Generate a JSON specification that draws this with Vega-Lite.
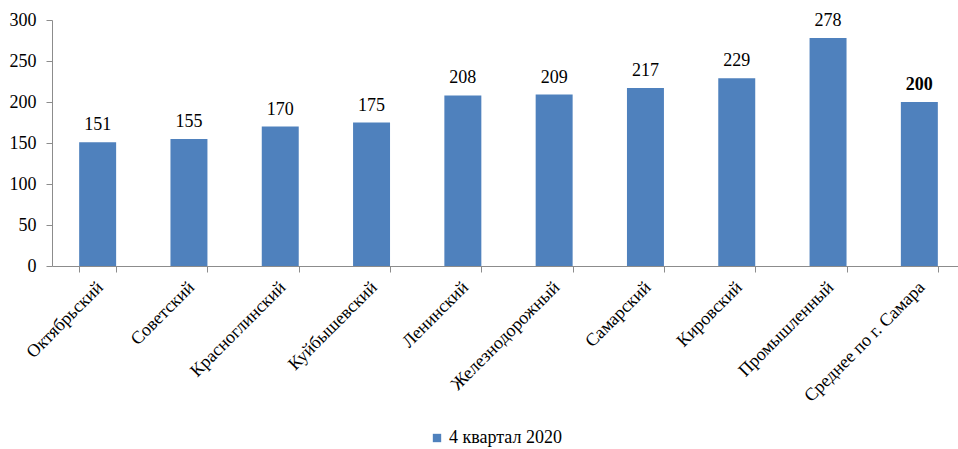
{
  "$schema": "https://vega.github.io/schema/vega-lite/v6.json",
  "width": 906,
  "height": 246,
  "autosize": {"type": "none"},
  "padding": {"left": 52, "top": 20, "right": 0, "bottom": 183},
  "background": "white",
  "config": {
    "view": {"stroke": null},
    "font": "Liberation Serif",
    "axis": {"labelFont": "Liberation Serif", "labelFontSize": 18, "labelColor": "#000000", "domainColor": "#8c8c8c", "tickColor": "#8c8c8c", "grid": false, "title": null},
    "legend": {"labelFont": "Liberation Serif", "labelFontSize": 18, "labelColor": "#000000"}
  },
  "data": {
    "values": [
      {"district": "Октябрьский", "value": 151},
      {"district": "Советский", "value": 155},
      {"district": "Красноглинский", "value": 170},
      {"district": "Куйбышевский", "value": 175},
      {"district": "Ленинский", "value": 208},
      {"district": "Железнодорожный", "value": 209},
      {"district": "Самарский", "value": 217},
      {"district": "Кировский", "value": 229},
      {"district": "Промышленный", "value": 278},
      {"district": "Среднее по г. Самара", "value": 200}
    ]
  },
  "encoding": {
    "x": {
      "field": "district", "type": "nominal", "sort": null,
      "scale": {"range": [0, 913], "paddingInner": 0.595, "paddingOuter": 0.2975},
      "axis": {"labelAngle": -45, "tickBand": "extent", "tickSize": 6, "labelPadding": 6, "labelOffset": -4}
    },
    "y": {
      "field": "value", "type": "quantitative",
      "scale": {"domain": [0, 300], "nice": false},
      "axis": {"values": [0, 50, 100, 150, 200, 250, 300], "tickSize": 6, "labelPadding": 10}
    }
  },
  "layer": [
    {
      "mark": {"type": "bar", "color": "#4F81BD"},
      "encoding": {
        "color": {"datum": "4 квартал 2020", "scale": {"range": ["#4F81BD"]},
          "legend": {"orient": "none", "legendX": 376, "legendY": 409, "title": null, "symbolType": "square", "symbolSize": 70, "labelOffset": 3}}
      }
    },
    {
      "transform": [{"filter": "datum.district !== 'Среднее по г. Самара'"}],
      "mark": {"type": "text", "baseline": "alphabetic", "dy": -12, "fontSize": 18, "font": "Liberation Serif", "color": "#000000"},
      "encoding": {"text": {"field": "value", "type": "quantitative"}}
    },
    {
      "transform": [{"filter": "datum.district === 'Среднее по г. Самара'"}],
      "mark": {"type": "text", "baseline": "alphabetic", "dy": -12, "fontSize": 18, "fontWeight": "bold", "font": "Liberation Serif", "color": "#000000"},
      "encoding": {"text": {"field": "value", "type": "quantitative"}}
    }
  ]
}
